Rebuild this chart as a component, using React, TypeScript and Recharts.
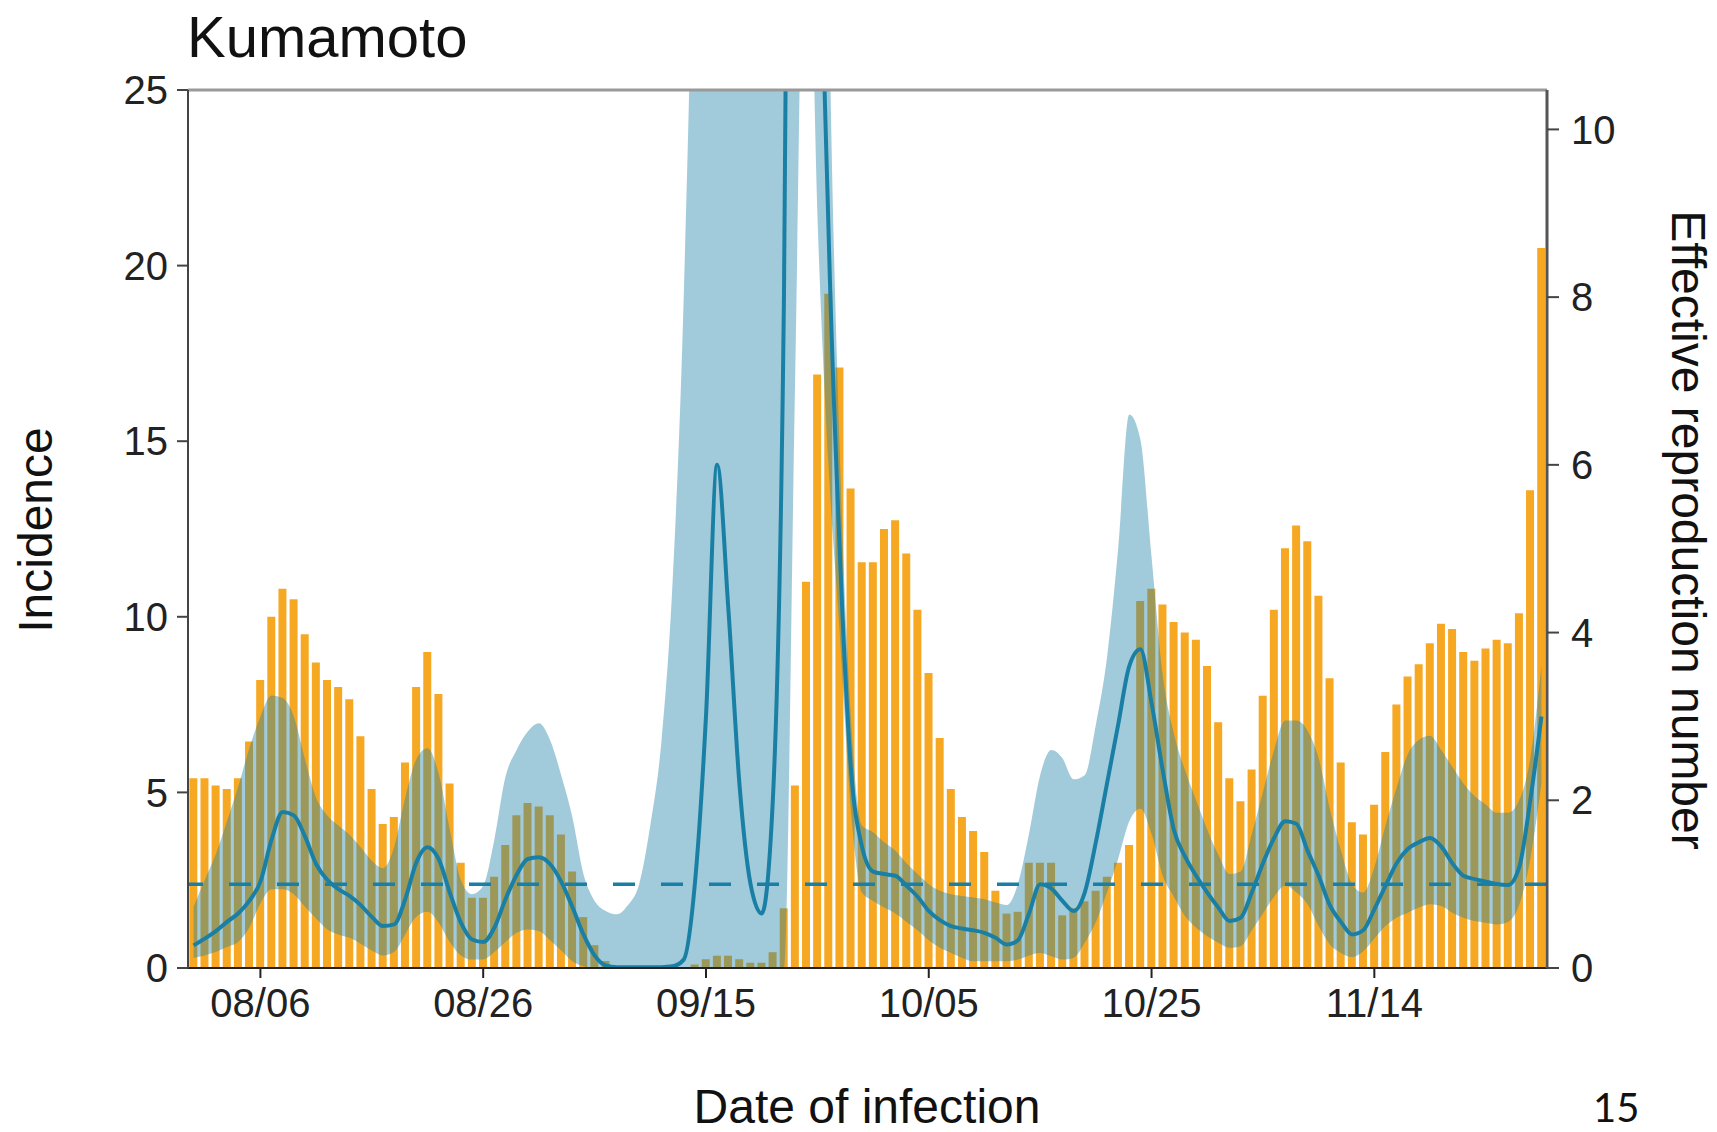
import { ComposedChart, Bar, Area, Line, XAxis, YAxis, ReferenceLine } from 'recharts';

// daily categories, 07/31 .. 11/29
const START = Date.UTC(2020, 6, 31);
const dates = Array.from({ length: 122 }, (_, i) => {
  const d = new Date(START + i * 86400000);
  return `${String(d.getUTCMonth() + 1).padStart(2, '0')}/${String(d.getUTCDate()).padStart(2, '0')}`;
});

const dateTicks = ['08/06', '08/26', '09/15', '10/05', '10/25', '11/14'];
const incidenceTicks = [0, 5, 10, 15, 20, 25];
const rtTicks = [0, 2, 4, 6, 8, 10];

const incidence = [
  5.4, 5.4, 5.2, 5.1, 5.4, 6.45, 8.2, 10.0, 10.8, 10.5,
  9.5, 8.7, 8.2, 8.0, 7.65, 6.6, 5.1, 4.1, 4.3, 5.85,
  8.0, 9.0, 7.8, 5.25, 3.0, 2.0, 2.0, 2.6, 3.5, 4.35,
  4.7, 4.6, 4.35, 3.8, 2.75, 1.45, 0.65, 0.2, 0, 0,
  0, 0, 0, 0, 0, 0.1, 0.25, 0.35, 0.35, 0.25,
  0.15, 0.15, 0.45, 1.7, 5.2, 11.0, 16.9, 19.2, 17.1, 13.65,
  11.55, 11.55, 12.5, 12.75, 11.8, 10.2, 8.4, 6.55, 5.1, 4.3,
  3.9, 3.3, 2.2, 1.55, 1.6, 3.0, 3.0, 3.0, 1.5, 1.7,
  1.9, 2.2, 2.6, 3.0, 3.5, 10.45, 10.8, 10.35, 9.85, 9.55,
  9.35, 8.6, 7.0, 5.4, 4.75, 5.65, 7.75, 10.2, 11.95, 12.6,
  12.15, 10.6, 8.25, 5.85, 4.15, 3.8, 4.65, 6.15, 7.5, 8.3,
  8.65, 9.25, 9.8, 9.65, 9.0, 8.75, 9.1, 9.35, 9.25, 10.1,
  13.6, 20.5,
];

const rtMean = [
  0.27, 0.35, 0.44, 0.55, 0.65, 0.8, 1.03, 1.53, 1.86, 1.82,
  1.57, 1.24, 1.05, 0.94, 0.86, 0.75, 0.61, 0.5, 0.52, 0.82,
  1.26, 1.44, 1.3, 0.9, 0.54, 0.34, 0.31, 0.48, 0.82, 1.11,
  1.3, 1.32, 1.24, 1.03, 0.73, 0.4, 0.15, 0.03, 0.01, 0.01,
  0.01, 0.01, 0.01, 0.02, 0.1, 1.0, 3.0, 6.0, 4.3, 2.2,
  1.0, 0.65, 2.0, 8.0, 25, 30, 15, 8.8, 5.0, 2.4,
  1.45, 1.15, 1.12, 1.1, 0.98, 0.85, 0.68, 0.57, 0.5, 0.47,
  0.45, 0.42, 0.36, 0.28, 0.33, 0.65, 1.0, 0.95, 0.8, 0.68,
  0.9, 1.5, 2.2, 2.9, 3.6, 3.8, 3.16, 2.36, 1.65, 1.33,
  1.1, 0.9, 0.72, 0.56, 0.6, 0.9, 1.25, 1.55, 1.75, 1.72,
  1.4, 1.1, 0.75, 0.55, 0.4, 0.45, 0.7, 0.98, 1.25, 1.42,
  1.5, 1.55, 1.45, 1.25, 1.1, 1.06, 1.03, 1.0, 0.99, 1.2,
  2.0, 3.0,
];

const rtLower = [
  0.12, 0.15, 0.19, 0.25, 0.31, 0.48, 0.77, 0.94, 0.94, 0.88,
  0.73, 0.59, 0.46, 0.4, 0.36, 0.29, 0.21, 0.15, 0.19, 0.4,
  0.61, 0.67, 0.54, 0.31, 0.15, 0.1, 0.1, 0.19, 0.31, 0.42,
  0.46, 0.44, 0.33, 0.21, 0.08, 0.02, 0, 0, 0, 0,
  0, 0, 0, 0, 0, 0, 0, 0, 0, 0,
  0, 0, 0, 0, 7, 14, 9, 6, 4.0, 1.9,
  0.9, 0.8, 0.72, 0.65, 0.55, 0.45, 0.33, 0.24, 0.18, 0.12,
  0.08, 0.08, 0.08, 0.08, 0.1, 0.15, 0.18, 0.14, 0.1, 0.12,
  0.3, 0.55, 0.9, 1.3, 1.75, 1.9, 1.6, 1.1, 0.85, 0.62,
  0.48, 0.38, 0.3, 0.24, 0.26, 0.45, 0.65, 0.85, 0.98, 0.9,
  0.76, 0.5, 0.28, 0.18, 0.13, 0.2, 0.35, 0.5, 0.6, 0.66,
  0.72, 0.76, 0.74, 0.66, 0.6, 0.56, 0.54, 0.52, 0.55, 0.75,
  1.3, 2.2,
];

const rtUpper = [
  0.73, 1.05, 1.36, 1.75, 2.16, 2.62, 3.0, 3.25, 3.22, 3.0,
  2.49, 2.03, 1.82, 1.7, 1.59, 1.44, 1.28, 1.19, 1.44, 2.03,
  2.49, 2.62, 2.32, 1.65, 1.05, 0.88, 0.98, 1.53, 2.28, 2.6,
  2.82, 2.92, 2.72, 2.3, 1.8, 1.12, 0.8, 0.68, 0.64, 0.75,
  1.0, 1.7, 2.7, 4.6, 8.0, 14, 25, 30, 30, 30,
  30, 30, 30, 30, 40, 40, 25, 12, 6.2, 3.0,
  1.7, 1.62, 1.5, 1.4, 1.25, 1.12, 1.0, 0.92, 0.88, 0.86,
  0.84, 0.82, 0.78, 0.75, 1.0, 1.6, 2.3, 2.6, 2.5, 2.25,
  2.3, 2.9, 3.7, 5.0, 6.6, 6.3, 4.9, 3.5, 2.8, 2.36,
  2.0, 1.65, 1.35, 1.12, 1.15, 1.6, 2.1, 2.6, 2.95, 2.95,
  2.83, 2.5, 1.9, 1.4, 1.0, 0.9, 1.2, 1.7, 2.15, 2.55,
  2.72, 2.77, 2.6, 2.4, 2.2, 2.05, 1.95, 1.85, 1.85, 2.0,
  2.5, 3.6,
];

const data = dates.map((date, i) => ({
  date,
  inc: incidence[i],
  rt: rtMean[i],
  band: [rtLower[i], rtUpper[i]],
}));

const ORANGE = '#f7a823';
const TEAL = '#1a7fa5';
const FONT = '"Liberation Sans", Arial, sans-serif';

export default function App() {
  return (
    <div style={{ position: 'relative', width: 1701, height: 1116, fontFamily: FONT }}>
      <ComposedChart
        width={1701}
        height={1116}
        data={data}
        margin={{ top: 82, right: 92, bottom: 116, left: 120 }}
        barCategoryGap="12%"
      >
        <XAxis
          dataKey="date"
          ticks={dateTicks}
          interval={0}
          tick={{ fill: '#222', fontSize: 40 }}
          tickSize={10}
          tickMargin={11}
          height={40}
          axisLine={{ stroke: '#222', strokeWidth: 2 }}
          tickLine={{ stroke: '#222', strokeWidth: 2 }}
        />
        <YAxis
          yAxisId="left"
          domain={[0, 25]}
          ticks={incidenceTicks}
          width={60}
          tick={{ fill: '#222', fontSize: 40 }}
          tickSize={11}
          tickMargin={9}
          axisLine={{ stroke: '#444', strokeWidth: 2 }}
          tickLine={{ stroke: '#444', strokeWidth: 2 }}
        />
        <YAxis
          yAxisId="right"
          orientation="right"
          domain={[0, 10.47]}
          allowDataOverflow
          ticks={rtTicks}
          width={70}
          tick={{ fill: '#222', fontSize: 40 }}
          tickSize={12}
          tickMargin={12}
          axisLine={{ stroke: '#555', strokeWidth: 3 }}
          tickLine={{ stroke: '#444', strokeWidth: 2 }}
        />
        <Bar yAxisId="left" dataKey="inc" fill={ORANGE} isAnimationActive={false} zIndex={300} />
        <Area
          yAxisId="right"
          dataKey="band"
          type="monotone"
          fill="#1f82a6"
          fillOpacity={0.42}
          stroke="none"
          isAnimationActive={false}
          zIndex={350}
        />
        <Line
          yAxisId="right"
          dataKey="rt"
          type="monotone"
          stroke={TEAL}
          strokeWidth={4}
          dot={false}
          isAnimationActive={false}
          zIndex={400}
        />
        <ReferenceLine yAxisId="right" y={1} stroke={TEAL} strokeWidth={3.5} strokeDasharray="22 26" zIndex={450} />
        <ReferenceLine yAxisId="left" y={25} stroke="#999" strokeWidth={3} zIndex={460} />
      </ComposedChart>
      <svg
        width={1709}
        height={1124}
        style={{ position: 'absolute', left: 0, top: 0, pointerEvents: 'none', overflow: 'visible' }}
      >
        <text x={179} y={49} fontSize={58} fill="#111" fontFamily={FONT}>Kumamoto</text>
        <text x={44} y={522} fontSize={48} fill="#111" textAnchor="middle" transform="rotate(-90 44 522)" fontFamily={FONT}>
          Incidence
        </text>
        <text x={1664} y={522} fontSize={48} fill="#111" textAnchor="middle" transform="rotate(90 1664 522)" fontFamily={FONT}>
          Effective reproduction number
        </text>
        <text x={859} y={1115} fontSize={48} fill="#111" textAnchor="middle" fontFamily={FONT}>
          Date of infection
        </text>
        <text x={1585} y={1114} fontSize={40} fill="#111" fontFamily={'Lato, "Open Sans", sans-serif'}>15</text>
      </svg>
    </div>
  );
}
